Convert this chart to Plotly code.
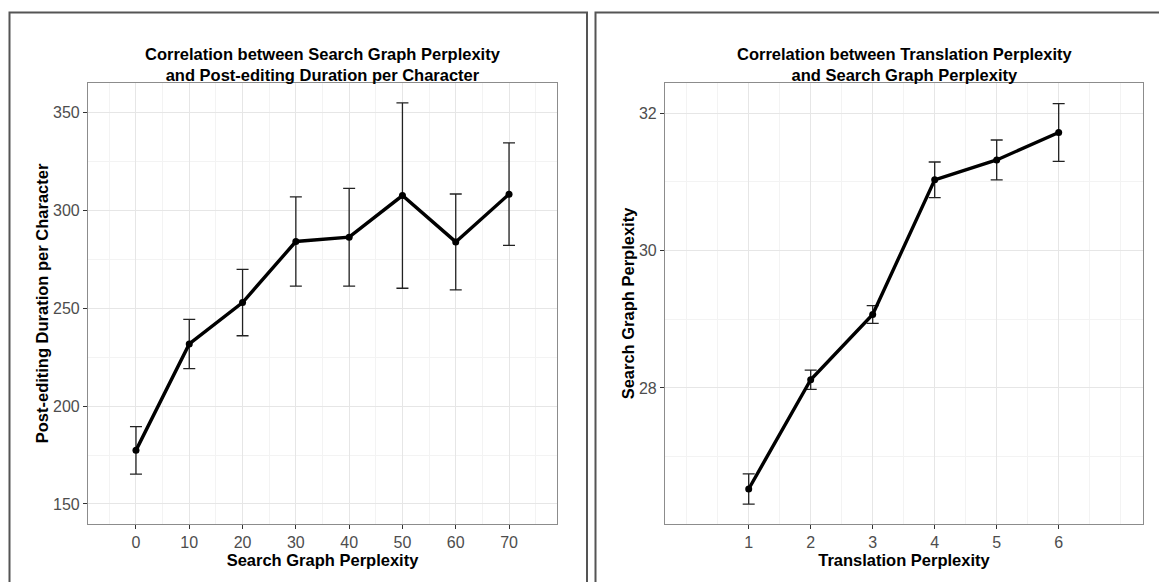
import plotly.graph_objects as go

# Left panel: search graph perplexity vs. post-editing duration per character
sg_perplexity = [0, 10, 20, 30, 40, 50, 60, 70]
pe_duration = [177.4, 231.8, 253.0, 284.2, 286.4, 307.7, 284.0, 308.4]
pe_duration_err = [12.1, 12.6, 17.0, 22.8, 25.0, 47.4, 24.5, 26.2]

# Right panel: translation perplexity vs. search graph perplexity
tr_perplexity = [1, 2, 3, 4, 5, 6]
sg_mean = [26.53, 28.12, 29.07, 31.03, 31.32, 31.72]
sg_mean_err = [0.22, 0.14, 0.13, 0.26, 0.29, 0.42]

left_ticks = [0, 10, 20, 30, 40, 50, 60, 70]
right_ticks = [1, 2, 3, 4, 5, 6]

W, H = 1159, 582
FONT = "Liberation Sans, Arial, sans-serif"
TICK_COLOR = "#4d4d4d"
GRID_MAJOR = "#e6e6e6"
GRID_MINOR = "#f3f3f3"
FRAME = "#8c8c8c"


def px_x(v):
    return v / W


def px_y(v):
    return 1 - v / H


fig = go.Figure()

line_style = dict(color="black", width=3.4)
marker_style = dict(color="black", size=7)
err_style = dict(color="#222222", thickness=1.3, width=6)

fig.add_trace(go.Scatter(
    x=sg_perplexity, y=pe_duration, mode="lines+markers",
    line=line_style, marker=marker_style,
    error_y=dict(type="data", array=pe_duration_err, visible=True, **err_style),
    xaxis="x", yaxis="y", showlegend=False,
))
fig.add_trace(go.Scatter(
    x=tr_perplexity, y=sg_mean, mode="lines+markers",
    line=line_style, marker=marker_style,
    error_y=dict(type="data", array=sg_mean_err, visible=True, **err_style),
    xaxis="x2", yaxis="y2", showlegend=False,
))

y_top, y_bot = px_y(83), px_y(524)


def axis_common():
    return dict(
        showline=True, mirror=True, linecolor=FRAME, linewidth=1.2,
        showgrid=True, gridcolor=GRID_MAJOR, gridwidth=1.1,
        ticks="outside", ticklen=4, tickwidth=1, tickcolor="#333333",
        tickfont=dict(family=FONT, size=16, color=TICK_COLOR),
        zeroline=False,
        title_font=dict(family=FONT, size=16.5, color="black", weight="bold"),
    )


fig.update_layout(
    width=W, height=H,
    margin=dict(l=0, r=0, t=0, b=0),
    paper_bgcolor="white", plot_bgcolor="white",
    xaxis=dict(
        domain=[px_x(88), px_x(557)], range=[-9, 79],
        tickmode="array", tickvals=left_ticks,
        minor=dict(dtick=5, tick0=0, showgrid=True, gridcolor=GRID_MINOR, gridwidth=1),
        title=dict(text="Search Graph Perplexity", standoff=1),
        anchor="y", **axis_common(),
    ),
    yaxis=dict(
        domain=[y_bot, y_top], range=[139.75, 365.25],
        dtick=50, tick0=0,
        minor=dict(dtick=25, tick0=0, showgrid=True, gridcolor=GRID_MINOR, gridwidth=1),
        title=dict(text="Post-editing Duration per Character", standoff=0),
        anchor="x", **axis_common(),
    ),
    xaxis2=dict(
        domain=[px_x(665), px_x(1143)], range=[-0.35, 7.36],
        tickmode="array", tickvals=right_ticks,
        minor=dict(dtick=0.5, tick0=0, showgrid=True, gridcolor=GRID_MINOR, gridwidth=1),
        title=dict(text="Translation Perplexity", standoff=1),
        anchor="y2", **axis_common(),
    ),
    yaxis2=dict(
        domain=[y_bot, y_top], range=[26.02, 32.44],
        dtick=2, tick0=0,
        minor=dict(dtick=1, tick0=0, showgrid=True, gridcolor=GRID_MINOR, gridwidth=1),
        title=dict(text="Search Graph Perplexity", standoff=0),
        anchor="x2", **axis_common(),
    ),
)

# Panel titles
titles = [
    ("Correlation between Search Graph Perplexity<br>and Post-editing Duration per Character", (88 + 557) / 2),
    ("Correlation between Translation Perplexity<br>and Search Graph Perplexity", (665 + 1143) / 2),
]
for text, cx in titles:
    fig.add_annotation(
        x=px_x(cx), y=y_top, xref="paper", yref="paper",
        xanchor="center", yanchor="bottom", yshift=-3,
        text=text, showarrow=False, align="center",
        font=dict(family=FONT, size=16.5, color="black", weight="bold"),
    )

# Outer frames around each panel
frame_line = dict(color="#555555", width=2)
fig.add_shape(type="rect", xref="paper", yref="paper",
              x0=px_x(9.5), x1=px_x(587), y0=px_y(600), y1=px_y(12.5),
              line=frame_line, fillcolor="rgba(0,0,0,0)", layer="above")
fig.add_shape(type="rect", xref="paper", yref="paper",
              x0=px_x(595.5), x1=px_x(1175), y0=px_y(600), y1=px_y(12.5),
              line=frame_line, fillcolor="rgba(0,0,0,0)", layer="above")

fig.write_html("out.html")
